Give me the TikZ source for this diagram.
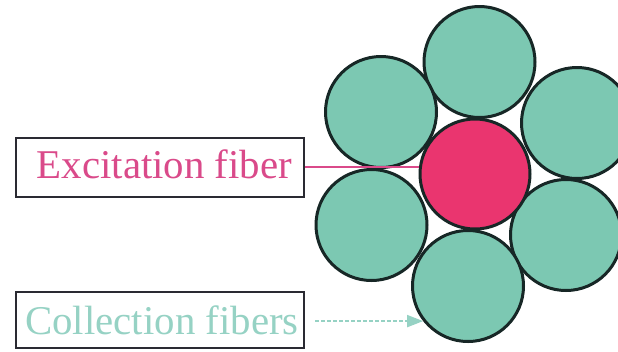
\documentclass[tikz,border=0pt]{standalone}
\usepackage{fontspec}
\setmainfont{Liberation Serif}
\usetikzlibrary{arrows.meta}
\definecolor{cladding}{HTML}{7CC8B2}
\definecolor{corefill}{HTML}{EA356F}
\definecolor{rimline}{HTML}{172726}
\definecolor{exctext}{HTML}{DA4A8A}
\definecolor{colltext}{HTML}{96D2C4}
\definecolor{boxline}{HTML}{2A2A32}
\tikzset{
  fiber/.style={circle, draw=rimline, line width=3bp, fill=cladding,
                minimum size=111bp, inner sep=0pt},
  corefiber/.style={fiber, fill=corefill, minimum size=110bp},
  labelbox/.style={draw=boxline, line width=2.4bp, minimum width=288bp,
                   inner sep=0pt, font=\fontsize{41}{49}\selectfont},
  exclead/.style={draw=exctext, line width=2bp},
  colllead/.style={draw=colltext, line width=2bp, dash pattern=on 4bp off 2bp,
                   -{Triangle[length=16bp,width=12bp,fill=colltext]}}
}
\begin{document}
\begin{tikzpicture}[x=1bp,y=-1bp]
  \useasboundingbox (0,0) rectangle (618,351);
  \fill[white] (0,0) rectangle (618,351);
  \begin{scope}
    \clip (0,0) rectangle (618,351);
    % ring of six collection fibers
    \node[fiber] (top)  at (479.5,62) {};
    \node[fiber] (ul)   at (381,112)  {};
    \node[fiber] (ur)   at (577,123)  {};
    \node[fiber] (ll)   at (371.5,225) {};
    \node[fiber] (lr)   at (566,235)  {};
    \node[fiber] (bot)  at (468,286)  {};
    % central excitation fiber
    \node[corefiber] (core) at (475,174) {};
  \end{scope}
  % labels (text set slightly right of the box centre)
  \node[labelbox, minimum height=59bp, text depth=6bp, text=exctext] (exc) at (160,167.2) {\hspace*{9bp}Excitation fiber};
  \node[labelbox, minimum height=56bp, text=colltext] (coll) at (160,320) {\hspace*{4bp}Collection fibers};
  % leader line to the excitation fiber
  \draw[exclead] (exc.east) -- (exc.east -| core.west);
  % arrow to the collection fibers
  \coordinate (arrowstart) at ([xshift=10bp]coll.east);
  \coordinate (arrowtip) at (bot.218);
  \draw[colllead] (arrowstart |- arrowtip) -- (arrowtip);
\end{tikzpicture}
\end{document}
